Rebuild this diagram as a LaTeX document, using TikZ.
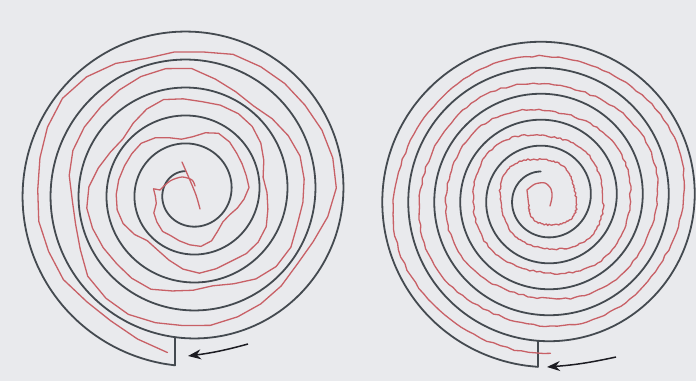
\documentclass[tikz,border=0pt]{standalone}
\usetikzlibrary{arrows.meta}
\definecolor{bgc}{RGB}{233,234,237}
\definecolor{ink}{RGB}{68,74,80}
\definecolor{trace}{RGB}{200,96,102}
\definecolor{arrowink}{RGB}{28,28,34}
\begin{document}
\begin{tikzpicture}[x=1pt,y=1pt,
  blackline/.style={ink,line width=1.8pt,line join=round,line cap=round},
  redline/.style={trace,line width=1.3pt,line join=round,line cap=round},
  arrowline/.style={arrowink,line width=1.5pt,-{Stealth[length=13pt,width=10pt]}},
  declare function={rbL(\t)=174-(265-\t)/360*28; rbR(\t)=169-(267.5-\t)/360*26;}]
\pgfmathsetseed{4711}
\fill[bgc] (0,0) rectangle (696,381);
\useasboundingbox (0,0) rectangle (696,381);

% ---------- left spiral ----------
\draw[blackline] plot[domain=-1697:265,samples=500,variable=\t,smooth]
  ({190+rbL(\t)*cos(\t)},{189+rbL(\t)*sin(\t)});
\coordinate (Lend) at ({190+174*cos(265)},{189+174*sin(265)});
\draw[blackline] (Lend) -- ++(0,28) coordinate (Lgate);

\draw[redline] plot[smooth,tension=0.5] coordinates {(195,195) (192,201) (182,204) (170,200) (160,191)}
  -- plot[domain=-1265:262,samples=130,variable=\t]
  ({190+(rbL(\t)-14+5.5*sin(2.7*\t+30)+3*sin(5.3*\t+70)+1.3*rand)*cos(\t)},
   {189+(rbL(\t)-14+5.5*sin(2.7*\t+30)+3*sin(5.3*\t+70)+1.3*rand)*sin(\t)});
\draw[redline] plot[smooth,tension=0.5] coordinates {(182,219) (189,203) (196,186) (200,172)};

\coordinate (La1) at (248,37);
\coordinate (La2) at (188,25);
\draw[arrowline] (La1) to[bend left=4] (La2);

% ---------- right spiral ----------
\draw[blackline] plot[domain=-1701:267.5,samples=500,variable=\t,smooth]
  ({545+rbR(\t)*cos(\t)},{183+rbR(\t)*sin(\t)});
\coordinate (Rend) at ({545+169*cos(267.5)},{183+169*sin(267.5)});
\draw[blackline] (Rend) -- ++(0,26) coordinate (Rgate);

\draw[redline] plot[smooth,tension=0.5] coordinates {(550,175) (552,184) (551,192) (545,198) (535,197) (527,191)}
  -- plot[domain=-1602:272,samples=700,variable=\t]
  ({545+(rbR(\t)-13+2.5*sin(1.9*\t+50)+1.5*sin(4.1*\t)+0.9*rand)*cos(\t)},
   {183+(rbR(\t)-13+2.5*sin(1.9*\t+50)+1.5*sin(4.1*\t)+0.9*rand)*sin(\t)});

\coordinate (Ra1) at (616,24);
\coordinate (Ra2) at (547,14);
\draw[arrowline] (Ra1) to[bend left=4] (Ra2);
\end{tikzpicture}
\end{document}
